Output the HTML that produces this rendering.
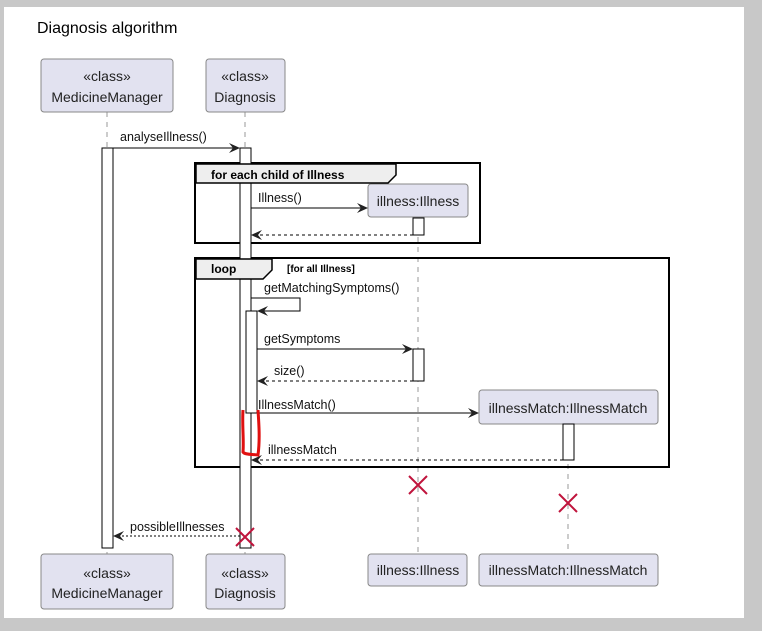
<!DOCTYPE html>
<html><head><style>
body{margin:0;background:#c8c8c8;width:762px;height:631px;overflow:hidden;font-family:"Liberation Sans",sans-serif}
</style></head><body>
<svg width="762" height="631" xmlns="http://www.w3.org/2000/svg" style="position:absolute;left:0;top:0">
<rect x="4" y="7" width="740" height="611" fill="#fff"/>
<text x="37" y="33" font-size="16" fill="#000" font-family="Liberation Sans,sans-serif">Diagnosis algorithm</text>
<g stroke="#999" stroke-dasharray="5,5" stroke-width="1">
<line x1="107" y1="112" x2="107" y2="554"/><line x1="245" y1="112" x2="245" y2="554"/>
<line x1="418" y1="217" x2="418" y2="554"/><line x1="568" y1="424" x2="568" y2="554"/>
</g>
<g font-family="Liberation Sans,sans-serif" font-size="14" fill="#222" text-anchor="middle">
<rect x="41" y="59" width="132" height="53" rx="3" fill="#e2e2f0" stroke="#888"/>
<text x="107" y="81">«class»</text><text x="107" y="102">MedicineManager</text>
<rect x="206" y="59" width="79" height="53" rx="3" fill="#e2e2f0" stroke="#888"/>
<text x="245" y="81">«class»</text><text x="245" y="102">Diagnosis</text>
<rect x="41" y="554" width="132" height="55" rx="3" fill="#e2e2f0" stroke="#888"/>
<text x="107" y="578">«class»</text><text x="107" y="598">MedicineManager</text>
<rect x="206" y="554" width="79" height="55" rx="3" fill="#e2e2f0" stroke="#888"/>
<text x="245" y="578">«class»</text><text x="245" y="598">Diagnosis</text>
<rect x="368" y="554" width="99" height="32" rx="3" fill="#e2e2f0" stroke="#888"/>
<text x="418" y="575">illness:Illness</text>
<rect x="479" y="554" width="179" height="32" rx="3" fill="#e2e2f0" stroke="#888"/>
<text x="568" y="575">illnessMatch:IllnessMatch</text>
<rect x="368" y="184" width="100" height="33" rx="3" fill="#e2e2f0" stroke="#888"/>
<text x="418" y="206">illness:Illness</text>
<rect x="479" y="390" width="179" height="34" rx="3" fill="#e2e2f0" stroke="#888"/>
<text x="568" y="413">illnessMatch:IllnessMatch</text>
</g>
<g stroke="#000" fill="none">
<rect x="195" y="163" width="285" height="80" stroke-width="2"/>
<rect x="195" y="258" width="474" height="209" stroke-width="2"/>
</g>
<!-- activations -->
<g fill="#fff" stroke="#000">
<rect x="102" y="148" width="11" height="400"/>
<rect x="240" y="148" width="11" height="400"/>
<rect x="246" y="311" width="11" height="102"/>
<rect x="413" y="218" width="11" height="17"/>
<rect x="413" y="349" width="11" height="32"/>
<rect x="563" y="424" width="11" height="36"/>
</g>
<g stroke="#000" fill="#eee">
<path d="M196 183 H388 L396 175 V164 H196 Z" stroke-width="1.5"/>
<path d="M196 279 H263 L272 270 V259 H196 Z" stroke-width="1.5"/>
</g>
<text x="211" y="179" font-size="12" font-weight="bold" font-family="Liberation Sans,sans-serif">for each child of Illness</text>
<text x="211" y="273" font-size="12" font-weight="bold" font-family="Liberation Sans,sans-serif">loop</text>
<text x="287" y="272" font-size="10" font-weight="bold" font-family="Liberation Sans,sans-serif">[for all Illness]</text>
<!-- arrows -->
<g stroke="#000" stroke-width="1" fill="none">
<line x1="113" y1="148" x2="238" y2="148"/>
<line x1="251" y1="208" x2="366" y2="208"/>
<line x1="413" y1="235" x2="253" y2="235" stroke-dasharray="3,3"/>
<path d="M251 298 H300 V311 H259"/>
<line x1="257" y1="349" x2="411" y2="349"/>
<line x1="413" y1="381" x2="259" y2="381" stroke-dasharray="3,3"/>
<line x1="257" y1="413" x2="477" y2="413"/>
<line x1="563" y1="460" x2="253" y2="460" stroke-dasharray="3,3"/>
<line x1="240" y1="536" x2="115" y2="536" stroke-dasharray="2,2"/>
</g>
<g fill="#222">
<path d="M240 148 l-11 -5 l4 5 l-4 5z"/>
<path d="M368 208 l-11 -5 l4 5 l-4 5z"/>
<path d="M251 235 l11 -5 l-4 5 l4 5z"/>
<path d="M257 311 l11 -5 l-4 5 l4 5z"/>
<path d="M413 349 l-11 -5 l4 5 l-4 5z"/>
<path d="M257 381 l11 -5 l-4 5 l4 5z"/>
<path d="M479 413 l-11 -5 l4 5 l-4 5z"/>
<path d="M251 460 l11 -5 l-4 5 l4 5z"/>
<path d="M113 536 l11 -5 l-4 5 l4 5z"/>
</g>
<g font-family="Liberation Sans,sans-serif" font-size="12.5" fill="#111">
<text x="120" y="141">analyseIllness()</text>
<text x="258" y="202">Illness()</text>
<text x="264" y="292">getMatchingSymptoms()</text>
<text x="264" y="343">getSymptoms</text>
<text x="274" y="375">size()</text>
<text x="258" y="409">IllnessMatch()</text>
<text x="268" y="454">illnessMatch</text>
<text x="130" y="531">possibleIllnesses</text>
</g>
<g stroke="#c0143c" stroke-width="2">
<path d="M409 476 l18 18 M427 476 l-18 18"/>
<path d="M559 494 l18 18 M577 494 l-18 18"/>
<path d="M236 528 l18 18 M254 528 l-18 18"/>
</g>
<path d="M243 410 C242 425 244 440 243 452 C245 455 252 454 258 455 C260 440 259 425 258 410" stroke="#e01010" stroke-width="3" fill="none"/>
</svg>
</body></html>
